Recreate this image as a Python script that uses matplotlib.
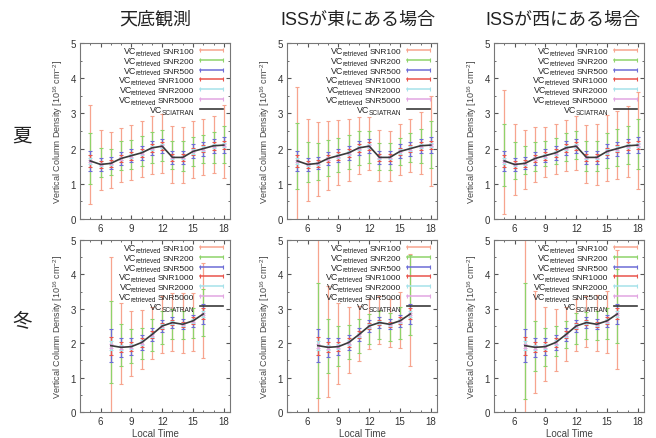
import numpy as np
import matplotlib
matplotlib.use('Agg')
import matplotlib.pyplot as plt
from matplotlib.ticker import MultipleLocator

plt.rcParams['font.family'] = ['Liberation Sans', 'Noto Sans CJK JP']
plt.rcParams['mathtext.fontset'] = 'custom'
plt.rcParams['mathtext.rm'] = 'Liberation Sans'
plt.rcParams['mathtext.it'] = 'Liberation Sans:italic'

# local time of the retrievals
T_SUMMER = [5, 6, 7, 8, 9, 10, 11, 12, 13, 14, 15, 16, 17, 18]
T_WINTER = [7, 8, 9, 10, 11, 12, 13, 14, 15, 16]

# SCIATRAN "true" vertical column
VC_SUMMER = [1.65, 1.55, 1.58, 1.72, 1.80, 1.88, 2.02, 2.07, 1.75, 1.75, 1.92, 2.00, 2.08, 2.10]
VC_WINTER = [1.93, 1.88, 1.90, 2.02, 2.25, 2.50, 2.60, 2.55, 2.65, 2.85]

# error half widths of the high-SNR cases
ERR500_SUMMER = [0.28, 0.18, 0.17, 0.18, 0.19, 0.20, 0.20, 0.20, 0.18, 0.18, 0.20, 0.20, 0.20, 0.22]
ERR1000_SUMMER = [0.16, 0.10, 0.10, 0.10, 0.11, 0.11, 0.11, 0.11, 0.10, 0.10, 0.11, 0.11, 0.11, 0.12]
ERR2000_SUMMER = [0.08, 0.05, 0.05, 0.05, 0.06, 0.06, 0.06, 0.06, 0.05, 0.05, 0.06, 0.06, 0.06, 0.06]
ERR5000_SUMMER = [0.04, 0.03, 0.03, 0.03, 0.03, 0.03, 0.03, 0.03, 0.03, 0.03, 0.03, 0.03, 0.03, 0.03]
ERR500_WINTER = [0.47, 0.28, 0.25, 0.22, 0.20, 0.18, 0.15, 0.15, 0.18, 0.30]
ERR1000_WINTER = [0.26, 0.15, 0.14, 0.12, 0.11, 0.10, 0.08, 0.08, 0.10, 0.16]
ERR2000_WINTER = [0.13, 0.08, 0.07, 0.06, 0.06, 0.05, 0.04, 0.04, 0.05, 0.08]
ERR5000_WINTER = [0.06, 0.04, 0.04, 0.03, 0.03, 0.03, 0.02, 0.02, 0.03, 0.04]

# SNR100 / SNR200 error bar ranges, per panel
SN_HI100 = [3.23, 2.52, 2.46, 2.59, 2.68, 2.79, 2.93, 2.97, 2.65, 2.62, 2.77, 2.83, 2.92, 3.23]
SN_LO100 = [0.43, 0.81, 0.89, 1.04, 1.11, 1.19, 1.28, 1.31, 1.02, 1.02, 1.17, 1.25, 1.31, 1.16]
SN_HI200 = [2.44, 2.03, 2.00, 2.22, 2.25, 2.35, 2.48, 2.53, 2.22, 2.22, 2.32, 2.40, 2.48, 2.65]
SN_LO200 = [1.00, 1.19, 1.25, 1.38, 1.43, 1.50, 1.60, 1.65, 1.41, 1.36, 1.50, 1.60, 1.60, 1.60]

SE_HI100 = [3.75, 2.85, 2.75, 2.78, 2.80, 2.85, 2.90, 2.90, 2.53, 2.50, 2.70, 2.85, 3.03, 3.50]
SE_LO100 = [0.00, 0.50, 0.64, 0.81, 0.96, 1.07, 1.29, 1.39, 1.09, 1.09, 1.24, 1.34, 1.29, 0.95]
SE_HI200 = [2.73, 2.20, 2.15, 2.25, 2.30, 2.38, 2.49, 2.49, 2.15, 2.15, 2.30, 2.43, 2.56, 2.78]
SE_LO200 = [0.86, 1.05, 1.12, 1.22, 1.34, 1.43, 1.53, 1.60, 1.39, 1.39, 1.53, 1.63, 1.60, 1.46]

SW_HI100 = [3.66, 2.71, 2.54, 2.61, 2.61, 2.69, 2.82, 2.93, 2.66, 2.71, 2.95, 3.07, 3.21, 3.61]
SW_LO100 = [0.14, 0.67, 0.84, 1.06, 1.20, 1.27, 1.37, 1.39, 1.02, 0.98, 1.08, 1.13, 1.18, 0.84]
SW_HI200 = [2.69, 2.18, 2.08, 2.18, 2.23, 2.29, 2.44, 2.51, 2.23, 2.23, 2.44, 2.56, 2.63, 2.85]
SW_LO200 = [0.94, 1.13, 1.27, 1.37, 1.51, 1.56, 1.65, 1.70, 1.37, 1.37, 1.46, 1.51, 1.56, 1.42]

WN_HI100 = [4.52, 3.18, 2.94, 2.97, 3.06, 3.37, 3.47, 3.47, 3.47, 4.34]
WN_LO100 = [-0.10, 0.80, 1.05, 1.24, 1.53, 1.72, 1.77, 1.72, 1.77, 1.58]
WN_HI200 = [3.23, 2.55, 2.40, 2.45, 2.69, 2.94, 2.98, 2.94, 3.03, 3.57]
WN_LO200 = [0.85, 1.34, 1.43, 1.55, 1.77, 1.97, 2.11, 2.11, 2.16, 2.20]

WE_HI100 = [5.30, 3.65, 3.17, 3.05, 3.09, 3.28, 3.36, 3.28, 3.48, 4.60]
WE_LO100 = [-0.30, 0.43, 0.82, 1.12, 1.48, 1.82, 1.97, 1.89, 1.86, 1.34]
WE_HI200 = [3.75, 2.70, 2.49, 2.54, 2.69, 2.84, 2.94, 2.88, 3.05, 4.55]
WE_LO200 = [0.41, 1.14, 1.33, 1.53, 1.72, 1.97, 2.11, 2.06, 2.11, 2.25]

WW_HI100 = [5.30, 3.52, 3.06, 3.00, 3.06, 3.28, 3.37, 3.39, 3.52, 4.71]
WW_LO100 = [-0.30, 0.56, 0.90, 1.19, 1.48, 1.77, 1.89, 1.77, 1.72, 1.24]
WW_HI200 = [3.76, 2.65, 2.45, 2.50, 2.65, 2.89, 2.91, 2.94, 3.03, 4.15]
WW_LO200 = [0.37, 1.19, 1.34, 1.63, 1.87, 1.97, 2.11, 2.09, 2.11, 2.00]

COL_TITLES = ['天底観測', 'ISSが東にある場合', 'ISSが西にある場合']
ROW_LABELS = ['夏', '冬']
SNR_LABELS = ['SNR100', 'SNR200', 'SNR500', 'SNR1000', 'SNR2000', 'SNR5000']
SNR_COLORS = ['#f7a48e', '#8ed36a', '#6c6cd6', '#e9544c', '#a6e2ea', '#e2a6e2']
LINE_COLOR = '#3a3a3a'

panels = [
    (0, 0, SN_HI100, SN_LO100, SN_HI200, SN_LO200),
    (0, 1, SE_HI100, SE_LO100, SE_HI200, SE_LO200),
    (0, 2, SW_HI100, SW_LO100, SW_HI200, SW_LO200),
    (1, 0, WN_HI100, WN_LO100, WN_HI200, WN_LO200),
    (1, 1, WE_HI100, WE_LO100, WE_HI200, WE_LO200),
    (1, 2, WW_HI100, WW_LO100, WW_HI200, WW_LO200),
]

W, H = 656, 439
fig = plt.figure(figsize=(W / 100, H / 100), dpi=100)

col_left = [80, 287, 494]
row_top = [44, 241]
row_bottom = [220, 413]
ax_w = 150
TXT = '#222222'


def draw_key(ax, h_px):
    # gnuplot style key: VC + small subscript + SNR, right aligned, sample line after it
    rows = [('retrieved', s, c) for s, c in zip(SNR_LABELS, SNR_COLORS)]
    rows.append(('SCIATRAN', None, LINE_COLOR))
    x_end = 114 / ax_w
    for i, (sub, snr, c) in enumerate(rows):
        base = 1 - (10 + 9.8 * i) / h_px
        if snr is not None:
            right = ax.text(x_end, base, snr, transform=ax.transAxes, ha='right',
                            va='baseline', fontsize=6.0, color=TXT)
            s = ax.annotate(sub, xy=(0, base), xycoords=(right, ax.transAxes),
                            xytext=(-1.2, -1.3), textcoords='offset points',
                            ha='right', va='baseline', fontsize=4.7, color=TXT)
        else:
            s = ax.annotate(sub, xy=(x_end, base), xycoords='axes fraction',
                            xytext=(0, -1.3), textcoords='offset points',
                            ha='right', va='baseline', fontsize=4.7, color=TXT)
        ax.annotate('VC', xy=(0, base), xycoords=(s, ax.transAxes),
                    xytext=(0.9, 0), textcoords='offset points',
                    ha='right', va='baseline', fontsize=6.4, color=TXT)
        yl = base + 3 / h_px
        ax.plot([120 / ax_w, 143 / ax_w], [yl, yl], transform=ax.transAxes,
                color=c, lw=1.1 if snr else 1.2,
                marker='|' if snr else None, ms=3, mew=0.8, clip_on=False)


for row, col, hi100, lo100, hi200, lo200 in panels:
    l = col_left[col]
    h_px = row_bottom[row] - row_top[row]
    ax = fig.add_axes([l / W, 1 - row_bottom[row] / H, ax_w / W, h_px / H])
    if row == 0:
        t = np.array(T_SUMMER); vc = np.array(VC_SUMMER)
        errs = [ERR500_SUMMER, ERR1000_SUMMER, ERR2000_SUMMER, ERR5000_SUMMER]
    else:
        t = np.array(T_WINTER); vc = np.array(VC_WINTER)
        errs = [ERR500_WINTER, ERR1000_WINTER, ERR2000_WINTER, ERR5000_WINTER]

    # wide error bars: SNR100, SNR200
    for hi, lo, c in [(hi100, lo100, SNR_COLORS[0]), (hi200, lo200, SNR_COLORS[1])]:
        hi = np.array(hi); lo = np.array(lo)
        mid = (hi + lo) / 2
        ax.errorbar(t, mid, yerr=[mid - lo, hi - mid], fmt='none', ecolor=c,
                    elinewidth=0.9, capsize=1.5, capthick=0.8)
    # narrow error bars around the true column
    for e, c in zip(errs, SNR_COLORS[2:]):
        ax.errorbar(t, vc, yerr=e, fmt='none', ecolor=c,
                    elinewidth=0.9, capsize=1.5, capthick=0.8)
    ax.plot(t, vc, color=LINE_COLOR, lw=1.2, zorder=5)

    ax.set_xlim(4, 18.6)
    ax.set_ylim(0, 5)
    ax.set_xticks([6, 9, 12, 15, 18])
    ax.set_yticks([0, 1, 2, 3, 4, 5])
    ax.xaxis.set_minor_locator(MultipleLocator(1))
    ax.yaxis.set_minor_locator(MultipleLocator(0.5))
    ax.tick_params(which='both', direction='in', top=True, right=True,
                   color='#555555', labelsize=7, labelcolor='#333333', pad=3)
    ax.tick_params(which='major', length=3)
    ax.tick_params(which='minor', length=1.5)
    for s in ax.spines.values():
        s.set_color('#777777')
        s.set_linewidth(0.8)

    ax.set_ylabel(r'Vertical Column Density [10$^{16}$ cm$^{-2}$]',
                  fontsize=6.5, color='#444444', labelpad=4)
    if row == 1:
        ax.set_xlabel('Local Time', fontsize=7, color='#444444', labelpad=1)

    draw_key(ax, h_px)

col_center = [155, 358, 563]
for x, s in zip(col_center, COL_TITLES):
    fig.text(x / W, 1 - 20 / H, s, ha='center', va='center', fontsize=13,
             color=TXT)
for y, s in zip([137, 322], ROW_LABELS):
    fig.text(22 / W, 1 - y / H, s, ha='center', va='center', fontsize=14,
             color=TXT)

fig.savefig('out.png', dpi=100)
